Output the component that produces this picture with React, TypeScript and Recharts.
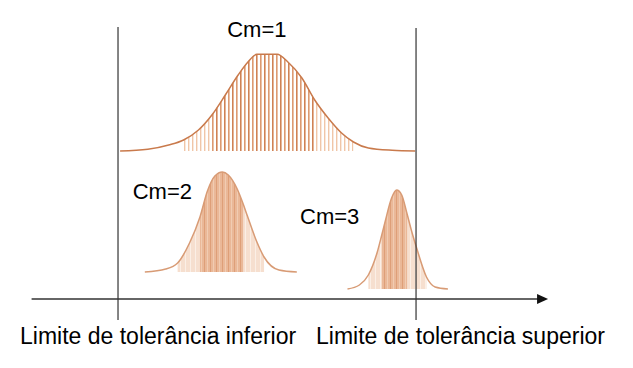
import React from "react";
import {
  ComposedChart,
  Area,
  Line,
  XAxis,
  YAxis,
  ReferenceLine,
  ReferenceDot,
} from "recharts";

type Pt = { x: number; y: number };

// x: position between the tolerance limits (LSL = 0, USL = 100)
// y: height above the horizontal axis
const LSL = 0;
const USL = 100;

const cm1Curve: Pt[] = [
  { x: 0.7, y: 148 },
  { x: 10, y: 149.7 },
  { x: 17, y: 154 },
  { x: 22, y: 159 },
  { x: 27, y: 169 },
  { x: 31.5, y: 184 },
  { x: 36, y: 204 },
  { x: 40.3, y: 224 },
  { x: 43.6, y: 237 },
  { x: 46.6, y: 244.7 },
  { x: 53.4, y: 244.7 },
  { x: 57, y: 237 },
  { x: 61.7, y: 221 },
  { x: 66, y: 199 },
  { x: 70.5, y: 181 },
  { x: 75, y: 166 },
  { x: 79, y: 157 },
  { x: 84, y: 151 },
  { x: 92, y: 148.7 },
  { x: 99.7, y: 148 },
];

const cm2Curve: Pt[] = [
  { x: 9, y: 27 },
  { x: 16, y: 30 },
  { x: 20, y: 36 },
  { x: 24, y: 56 },
  { x: 27.5, y: 82 },
  { x: 30, y: 108 },
  { x: 32.5, y: 123 },
  { x: 35, y: 127 },
  { x: 37, y: 124 },
  { x: 40, y: 110 },
  { x: 42, y: 95 },
  { x: 43.3, y: 84 },
  { x: 46.6, y: 57 },
  { x: 49, y: 42 },
  { x: 54, y: 29 },
  { x: 60, y: 27 },
];

const cm3Curve: Pt[] = [
  { x: 77, y: 10 },
  { x: 81, y: 14 },
  { x: 84, y: 24 },
  { x: 87, y: 47 },
  { x: 88.5, y: 64 },
  { x: 89.6, y: 77 },
  { x: 91.8, y: 101 },
  { x: 93.5, y: 109 },
  { x: 95.2, y: 104 },
  { x: 97, y: 85 },
  { x: 98.5, y: 68 },
  { x: 100.2, y: 51 },
  { x: 103.5, y: 22 },
  { x: 106.4, y: 12 },
  { x: 110.7, y: 10 },
];

// hatched ranges [from, to] on x
const cm1Hatch = [22, 79];
const cm1Core = [31, 66];
const cm2Hatch = [20, 49];
const cm2Core = [27.5, 42];
const cm3Hatch = [84, 103.5];
const cm3Core = [88.5, 97];

const captions = ["Cm=1", "Cm=2", "Cm=3"];
const limitLabels = ["Limite de tolerância inferior", "Limite de tolerância superior"];

const axisStart = -29;
const axisEnd = 144.3;

const between = (c: Pt[], r: number[]) => c.filter((p) => p.x >= r[0] && p.x <= r[1]);
const peak = (c: Pt[]) => c.reduce((a, b) => (b.y > a.y ? b : a));

const family = "'Liberation Sans', Arial, Helvetica, sans-serif";
const ink = "#333";

const Arrow = (props: any) => {
  const { x1, y1, x2, y2 } = props;
  return (
    <g>
      <line x1={x1} y1={y1} x2={x2 - 6} y2={y2} stroke={ink} strokeWidth={1.5} />
      <polygon points={`${x2},${y2} ${x2 - 11},${y2 - 5} ${x2 - 11},${y2 + 5}`} fill="#111" />
    </g>
  );
};

const caption = (text: string, dx: number, dy: number) => (props: any) => {
  const vb = props.viewBox;
  return (
    <text x={vb.x + dx} y={vb.y + dy} textAnchor="middle" style={{ fontFamily: family, fontSize: 22 }} fill="#000">
      {text}
    </text>
  );
};

const limitLabel = (text: string, dx: number) => (props: any) => {
  const vb = props.viewBox;
  return (
    <text x={vb.x + dx} y={vb.y + vb.height + 24} textAnchor="start" style={{ fontFamily: family, fontSize: 23 }} fill="#000">
      {text}
    </text>
  );
};

export default function App() {
  const p1 = peak(cm1Curve);
  const p2 = peak(cm2Curve);
  const p3 = peak(cm3Curve);

  const fillProps = { type: "monotone" as const, dataKey: "y", fillOpacity: 1, stroke: "none", dot: false, activeDot: false, isAnimationActive: false };
  const lineProps = { type: "monotone" as const, dataKey: "y", strokeWidth: 1.5, dot: false, activeDot: false, isAnimationActive: false };

  return (
    <div style={{ position: "absolute", left: 0, top: 0, background: "#fff" }}>
      <ComposedChart width={633} height={368} margin={{ top: 0, right: 0, bottom: 0, left: 0 }}>
        <defs>
          <pattern id="h1light" patternUnits="userSpaceOnUse" width={4} height={10}>
            <rect x={0} y={0} width={1.4} height={10} fill="#f0c6a8" />
          </pattern>
          <pattern id="h1dark" patternUnits="userSpaceOnUse" width={8} height={10}>
            <rect x={0} y={0} width={1.5} height={10} fill="#cf8255" />
            <rect x={4} y={0} width={1.5} height={10} fill="#dc9a72" />
          </pattern>
          <pattern id="hlight" patternUnits="userSpaceOnUse" width={5} height={10}>
            <rect x={0} y={0} width={5} height={10} fill="#f6dfcf" />
            <rect x={0} y={0} width={1} height={10} fill="#fbefe6" />
          </pattern>
          <pattern id="hdark" patternUnits="userSpaceOnUse" width={6} height={10}>
            <rect x={0} y={0} width={6} height={10} fill="#eab898" />
            <rect x={0} y={0} width={1} height={10} fill="#de9f78" />
            <rect x={3} y={0} width={1} height={10} fill="#f1ccb2" />
          </pattern>
        </defs>
        <XAxis type="number" dataKey="x" domain={[-39.6, 172.8]} hide allowDataOverflow />
        <YAxis type="number" dataKey="y" domain={[-69, 299]} hide allowDataOverflow />

        <Area {...fillProps} data={between(cm1Curve, cm1Hatch)} baseValue={cm1Curve[0].y} fill="url(#h1light)" />
        <Area {...fillProps} data={between(cm1Curve, cm1Core)} baseValue={cm1Curve[0].y} fill="url(#h1dark)" />
        <Area {...fillProps} data={between(cm2Curve, cm2Hatch)} baseValue={cm2Curve[0].y} fill="url(#hlight)" />
        <Area {...fillProps} data={between(cm2Curve, cm2Core)} baseValue={cm2Curve[0].y} fill="url(#hdark)" />
        <Area {...fillProps} data={between(cm3Curve, cm3Hatch)} baseValue={cm3Curve[0].y} fill="url(#hlight)" />
        <Area {...fillProps} data={between(cm3Curve, cm3Core)} baseValue={cm3Curve[0].y} fill="url(#hdark)" />

        <Line {...lineProps} data={cm1Curve} stroke="#c97a4c" />
        <Line {...lineProps} data={cm2Curve} stroke="#d89b75" />
        <Line {...lineProps} data={cm3Curve} stroke="#d89b75" />

        <ReferenceLine segment={[{ x: axisStart, y: 0 }, { x: axisEnd, y: 0 }]} shape={Arrow} />
        <ReferenceLine
          segment={[{ x: LSL, y: 272 }, { x: LSL, y: -21 }]}
          stroke={ink}
          strokeWidth={1.2}
          label={{ content: limitLabel(limitLabels[0], -98) }}
        />
        <ReferenceLine
          segment={[{ x: USL, y: 271 }, { x: USL, y: -21 }]}
          stroke={ink}
          strokeWidth={1.2}
          label={{ content: limitLabel(limitLabels[1], -100) }}
        />

        <ReferenceDot x={p1.x} y={p1.y} r={0} fill="none" stroke="none" label={{ content: caption(captions[0], 0, -17) }} />
        <ReferenceDot x={p2.x} y={p2.y} r={0} fill="none" stroke="none" label={{ content: caption(captions[1], -60, 27) }} />
        <ReferenceDot x={p3.x} y={p3.y} r={0} fill="none" stroke="none" label={{ content: caption(captions[2], -67, 34) }} />
      </ComposedChart>
    </div>
  );
}
